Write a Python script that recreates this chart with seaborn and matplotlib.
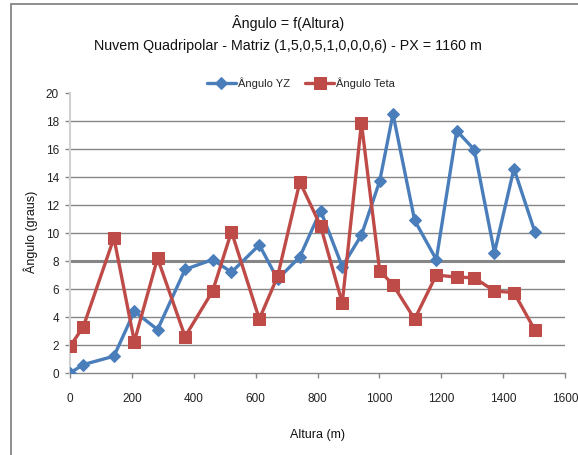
import matplotlib
matplotlib.use("Agg")
import matplotlib.pyplot as plt
from matplotlib.patches import Rectangle
import pandas as pd
import seaborn as sns

# Heights (m) and angles (degrees) for the two series
altura = [0, 43, 142, 208, 283, 372, 461, 522, 612, 671, 743, 810,
          880, 942, 1001, 1044, 1114, 1184, 1250, 1307, 1372, 1435, 1503]
angulo_yz = [0.0, 0.6, 1.2, 4.4, 3.1, 7.4, 8.1, 7.2, 9.15, 6.7, 8.3, 11.6,
             7.6, 9.85, 13.7, 18.5, 10.9, 8.1, 17.3, 15.95, 8.6, 14.6, 10.05]
angulo_teta = [1.9, 3.3, 9.65, 2.25, 8.2, 2.6, 5.85, 10.1, 3.85, 6.9, 13.65, 10.5,
               5.0, 17.85, 7.3, 6.3, 3.85, 7.0, 6.85, 6.8, 5.85, 5.75, 3.05]
x_ticks = [0, 200, 400, 600, 800, 1000, 1200, 1400, 1600]
y_ticks = [0, 2, 4, 6, 8, 10, 12, 14, 16, 18, 20]

sns.set_theme(style="white")
plt.rcParams["font.family"] = ["Liberation Sans Narrow", "Liberation Sans", "DejaVu Sans"]

W, H = 578, 455
fig = plt.figure(figsize=(W / 100, H / 100), dpi=100)
ax = fig.add_axes([70 / W, 1 - 373 / H, (565 - 70) / W, (373 - 93) / H])

blue = "#4A7EBB"
red = "#BE4B48"
grid_c = "#868686"

df_yz = pd.DataFrame({"Altura": altura, "Ângulo": angulo_yz})
df_teta = pd.DataFrame({"Altura": altura, "Ângulo": angulo_teta})

# horizontal gridlines
for v in y_ticks[1:-1]:
    ax.axhline(v, color=grid_c, lw=2.2 if v == 8 else 1.0, zorder=0)

sns.lineplot(data=df_yz, x="Altura", y="Ângulo", ax=ax, sort=False,
             color=blue, lw=2.4, marker="D", markersize=6.5,
             markeredgecolor=blue, label="Ângulo YZ", zorder=3)
sns.lineplot(data=df_teta, x="Altura", y="Ângulo", ax=ax, sort=False,
             color=red, lw=2.4, marker="s", markersize=8.5,
             markeredgecolor=red, label="Ângulo Teta", zorder=4)

ax.set_xlim(0, 1600)
ax.set_ylim(0, 20)
ax.set_xticks(x_ticks)
ax.set_yticks(y_ticks)
ax.tick_params(axis="both", labelsize=8.5, colors="#222222", length=3.5,
               width=1, direction="out")
ax.tick_params(axis="x", color=grid_c, pad=11)
ax.tick_params(axis="y", color=grid_c, pad=4.5)
ax.tick_params(bottom=True, left=True)

for side in ["top", "right"]:
    ax.spines[side].set_visible(False)
ax.spines["bottom"].set_color(grid_c)
ax.spines["bottom"].set_linewidth(1.0)
ax.spines["left"].set_color("#D0D0D0")
ax.spines["left"].set_linewidth(1.5)

ax.set_xlabel("Altura (m)", fontsize=9, color="#111111")
ax.set_ylabel("Ângulo (graus)", fontsize=9, color="#111111")
ax.xaxis.set_label_coords(0.5, -(435 - 373) / 280, transform=ax.transAxes)
ax.yaxis.set_label_coords(-(70 - 31) / 495, (373 - 232) / 280, transform=ax.transAxes)
ax.xaxis.label.set_va("center")
ax.yaxis.label.set_va("center")

leg = ax.legend(loc="center", bbox_to_anchor=(301 / W, 1 - 83 / H),
                bbox_transform=fig.transFigure, ncol=2, frameon=False,
                fontsize=8, handlelength=2.6, columnspacing=1.4,
                handletextpad=0.2, borderaxespad=0)

fig.text(288 / W, 1 - 23 / H, "Ângulo = f(Altura)", ha="center", va="center",
         fontsize=10.3, color="#111111")
fig.text(288 / W, 1 - 46 / H,
         "Nuvem Quadripolar - Matriz (1,5,0,5,1,0,0,0,6) - PX = 1160 m",
         ha="center", va="center", fontsize=10.3, color="#111111")

# chart frame
fig.patches.append(Rectangle((11 / W, -0.05), 1.2, 1 - 4 / H + 0.05,
                             transform=fig.transFigure, fill=False,
                             edgecolor=grid_c, lw=1.3))

fig.savefig("out.png", dpi=100)
